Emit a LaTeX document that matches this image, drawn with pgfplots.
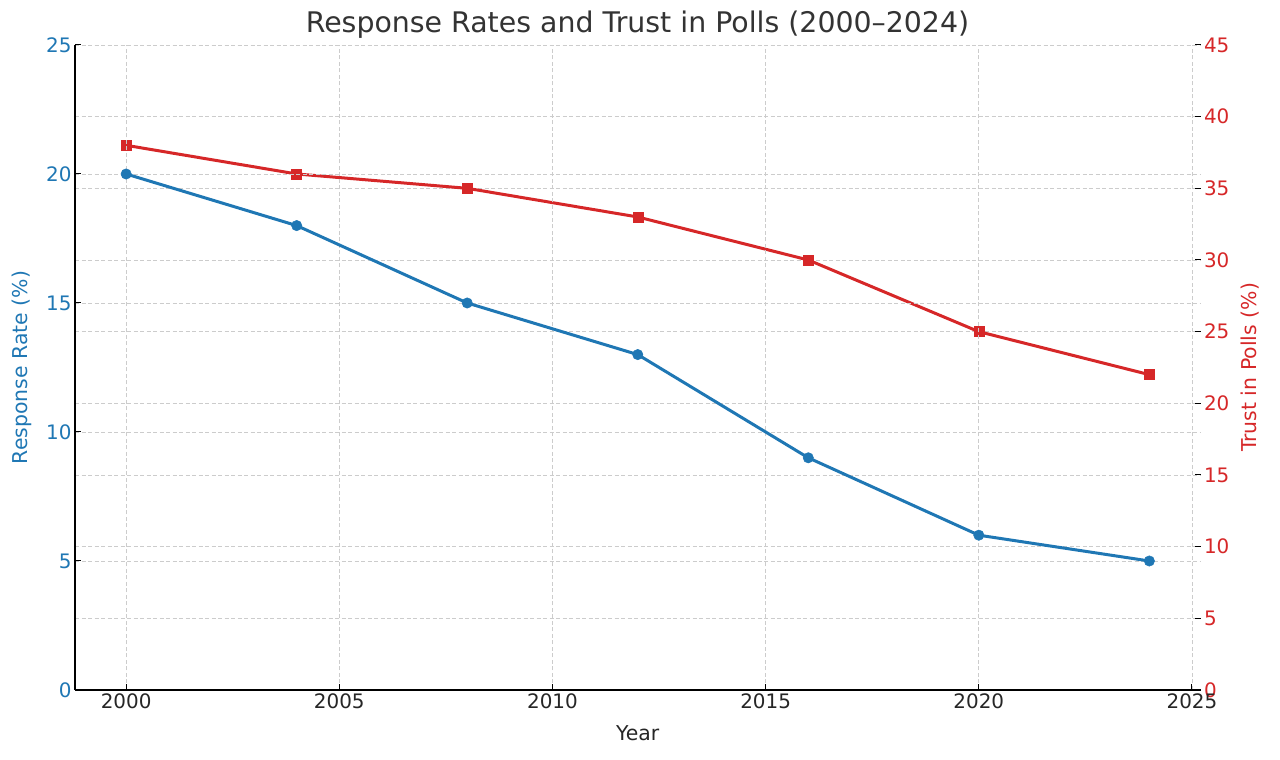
\documentclass[border=0pt]{standalone}
\usepackage{fontspec}
\setmainfont{DejaVu Sans}
\usepackage{pgfplots}
\pgfplotsset{compat=1.18}
\definecolor{mblue}{HTML}{1F77B4}
\definecolor{mred}{HTML}{D62728}
\definecolor{gridc}{HTML}{CCCCCC}
\definecolor{txt}{HTML}{262626}
\definecolor{ttl}{HTML}{333333}
\begin{document}
\begin{tikzpicture}[x=1bp,y=1bp]
\path[use as bounding box] (0,0) rectangle (1280,760);
\pgfplotsset{
  common/.style={
    at={(75bp,70bp)}, anchor=south west, scale only axis,
    width=1125.5bp, height=645bp,
    xmin=1998.8, xmax=2025.2, ymin=0,
    tick align=inside, major tick length=6bp,
    every tick/.style={black, line width=1bp},
    major grid style={gridc, dash pattern=on 4bp off 2.5bp, line width=0.9bp},
    /pgf/number format/assume math mode=true,
    /pgf/number format/1000 sep={},
    tick label style={font=\fontsize{20}{24}\selectfont},
    label style={font=\fontsize{20.5}{24}\selectfont},
    clip=false,
  }
}
\begin{axis}[common, ymax=45,
  axis x line=none, axis y line*=right,
  y axis line style={draw=none},
  ytick={5,10,15,20,25,30,35,40,45},
  extra y ticks={0}, extra y tick style={grid=none},
  ymajorgrids,
  yticklabel style={text=mred},
  ylabel={Trust in Polls (\%)},
  every axis y label/.style={at={(axis description cs:1.0444,0.5)}, rotate=90, anchor=center, text=mred, font=\fontsize{20.5}{24}\selectfont},
]
\addplot[mred, line width=3bp, mark=square*, mark size=5bp, mark options={solid, fill=mred, draw=mred, line width=0.5bp}]
  coordinates {(2000,38) (2004,36) (2008,35) (2012,33) (2016,30) (2020,25) (2024,22)};
\end{axis}
\begin{axis}[common, ymax=25,
  axis x line*=bottom, axis y line*=left,
  axis line style={-, black, line width=1.3bp},
  xtick={2000,2005,2010,2015,2020,2025},
  ytick={0,5,10,15,20,25},
  xmajorgrids, ymajorgrids,
  yticklabel style={text=mblue},
  xticklabel style={text=txt},
  xlabel={Year}, xlabel style={text=txt, at={(axis description cs:0.5,-0.0667)}, anchor=center},
  ylabel={Response Rate (\%)},
  every axis y label/.style={at={(axis description cs:-0.0471,0.5)}, rotate=90, anchor=center, text=mblue, font=\fontsize{20.5}{24}\selectfont},
]
\addplot[mblue, line width=3bp, mark=*, mark size=5.2bp, mark options={solid, fill=mblue, draw=mblue, line width=0.5bp}]
  coordinates {(2000,20) (2004,18) (2008,15) (2012,13) (2016,9) (2020,6) (2024,5)};
\end{axis}
\node[text=ttl, font=\fontsize{28.5}{33}\selectfont] at (637.5,735) {Response Rates and Trust in Polls (2000–2024)};
\end{tikzpicture}
\end{document}
